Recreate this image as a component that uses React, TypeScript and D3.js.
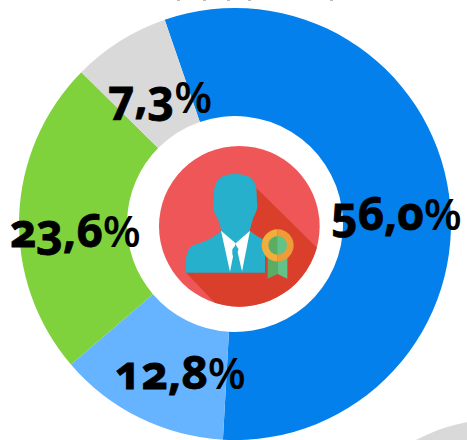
import * as d3 from "d3";

const numbers = ["56,0", "12,8", "23,6", "7,3"];
const values = [56.0, 12.8, 23.6, 7.3];
const colors = ["#0380EB", "#66B3FF", "#80D23D", "#D9D9D9"];

const width = 467;
const height = 440;
const cx = 235;
const cy = 224;
const outer = 216;
const inner = 108;
// left edge and baseline of each label
const labelPos = [
  [331, 230],
  [115, 389],
  [10, 247],
  [108, 113],
];
// clipped text of whatever sat above the chart
const topSpecks = [177, 203, 227, 248, 330];

const rad = (deg: number) => (deg * Math.PI) / 180;

const Icon = () => (
  <g transform="translate(150,160) scale(0.3333)">
    <clipPath id="badge">
      <circle cx={268} cy={199} r={241} />
    </clipPath>
    <circle cx={268} cy={199} r={241} fill="#EF5657" />
    <path
      d="M320,85 L520,282 L520,450 L215,450 L108,338 L300,200 Z"
      fill="#DA3F2B"
      clipPath="url(#badge)"
    />
    <path
      d="M255,42 C300,42 320,60 320,100 L321,128 C325,140 318,160 310,172 C306,190 300,205 300,212 C315,225 330,234 345,240 L345,338 L108,338 L108,300 C110,275 118,258 135,254 C165,246 195,232 214,210 C210,195 205,180 200,170 C192,160 187,140 192,125 L192,100 C192,60 215,42 255,42 Z"
      fill="#26B0CB"
    />
    <path d="M213,212 L257,250 L240,335 Z M300,212 L257,250 L276,335 Z" fill="#FFFFFF" />
    <path d="M257,255 L266,268 L259,282 L276,335 L262,337 L247,282 L247,268 Z" fill="#26B0CB" />
    <path d="M353,290 L383,290 L383,342 L353,356 Z" fill="#5BAD66" />
    <path d="M383,290 L412,290 L412,356 L383,342 Z" fill="#63C288" />
    <path d="M383,208 A48,48 0 0 0 383,304 Z" fill="#F2AE3D" />
    <path d="M383,208 A48,48 0 0 1 383,304 Z" fill="#EE9B38" />
    <path d="M383,228 A28,28 0 0 0 383,284 Z" fill="#5BAD66" />
    <path d="M383,228 A28,28 0 0 1 383,284 Z" fill="#63C288" />
  </g>
);

export default function App() {
  const pie = d3
    .pie<number>()
    .sort(null)
    .startAngle(rad(-19))
    .endAngle(rad(-19 + 360));
  const arc = d3.arc<d3.PieArcDatum<number>>().innerRadius(inner).outerRadius(outer);
  const arcs = pie(values);

  return (
    <svg
      width={width}
      height={height}
      style={{ position: "absolute", left: 0, top: 0 }}
    >
      <rect width={width} height={height} fill="#FFFFFF" />
      {topSpecks.map((x) => (
        <rect key={x} x={x} y={0} width={3} height={1} fill="#BBBBBB" />
      ))}
      {/* bit of the next chart peeking in at the corner */}
      <circle cx={500} cy={598} r={179} fill="#D9D9D9" />
      <g transform={`translate(${cx},${cy})`}>
        {arcs.map((d, i) => (
          <path key={i} d={arc(d) ?? ""} fill={colors[i]} />
        ))}
      </g>
      <Icon />
      {numbers.map((t, i) => (
        <text
          key={t}
          x={labelPos[i][0]}
          y={labelPos[i][1]}
          fontFamily="'Open Sans', sans-serif"
          fontWeight={700}
          fontSize={46}
          fill="#000000"
          stroke="#000000"
          strokeWidth={0.8}
          style={{ fontVariantNumeric: "oldstyle-nums" }}
        >
          {t}
          <tspan fontWeight={600} fontSize={44} stroke="none">%</tspan>
        </text>
      ))}
    </svg>
  );
}
